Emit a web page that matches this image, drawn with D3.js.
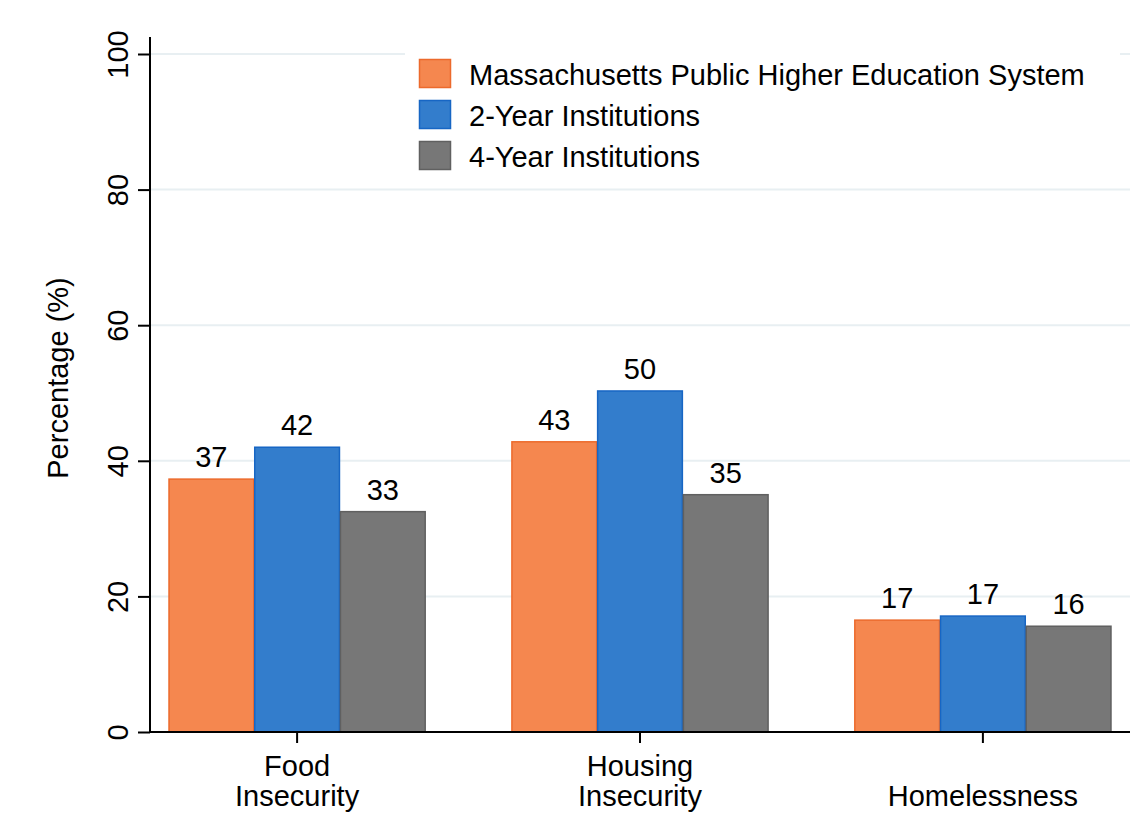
<!DOCTYPE html>
<html>
<head>
<meta charset="utf-8">
<script src="https://cdn.jsdelivr.net/npm/d3@7"></script>
<style>
  body { margin: 0; background: #fff; }
  text { font-family: "Liberation Sans", Arial, sans-serif; fill: #000; }
</style>
</head>
<body>
<svg width="1145" height="838"></svg>
<script>
const categories = [['Food', 'Insecurity'], ['Housing', 'Insecurity'], ['Homelessness']];
const seriesNames = ['Massachusetts Public Higher Education System', '2-Year Institutions', '4-Year Institutions'];
const massValues = [37.3, 42.8, 16.5];
const twoYearValues = [42.0, 50.3, 17.1];
const fourYearValues = [32.5, 35.0, 15.6];
const yTicks = [0, 20, 40, 60, 80, 100];

const fills = ['#f5874f', '#337dcc', '#777777'];
const strokes = ['#ec6a2c', '#1766c4', '#606060'];

const svg = d3.select('svg');
const plotL = 150, plotR = 1130, plotT = 54, plotB = 732;
const fs = 29;

const series = [massValues, twoYearValues, fourYearValues];
const catIdx = d3.range(categories.length);

// scales
const x0 = d3.scaleBand().domain(catIdx).range([plotL, plotR]).paddingInner(0.25).paddingOuter(0.054);
const x1 = d3.scaleBand().domain(d3.range(series.length)).range([0, x0.bandwidth()]);
const y = d3.scaleLinear().domain([0, 100]).range([plotB, plotT]);

// grid
svg.append('g').selectAll('line').data(yTicks.filter(d => d > 0)).enter().append('line')
    .attr('x1', plotL).attr('x2', plotR)
    .attr('y1', d => y(d)).attr('y2', d => y(d))
    .attr('stroke', '#e8eff2').attr('stroke-width', 2);

// bars
const gBars = svg.append('g');
series.forEach((vals, s) => {
  gBars.selectAll('.b' + s).data(vals).enter().append('rect')
    .attr('x', (d, i) => x0(i) + x1(s) + 0.5)
    .attr('width', x1.bandwidth() - 1)
    .attr('y', d => y(d))
    .attr('height', d => y(0) - y(d))
    .attr('fill', fills[s]).attr('stroke', strokes[s]).attr('stroke-width', 1.5);
  gBars.selectAll('.l' + s).data(vals).enter().append('text')
    .attr('x', (d, i) => x0(i) + x1(s) + x1.bandwidth() / 2)
    .attr('y', d => y(d) - 12)
    .attr('text-anchor', 'middle').attr('font-size', fs)
    .text(d => Math.round(d));
});

// y axis
const gY = svg.append('g').attr('transform', `translate(${plotL},0)`)
    .call(d3.axisLeft(y).tickValues(yTicks).tickSize(12).tickPadding(0));
gY.select('.domain').attr('d', `M0,37V${plotB}`).attr('stroke', '#000').attr('stroke-width', 2);
gY.selectAll('.tick line').attr('stroke', '#000').attr('stroke-width', 2);
gY.selectAll('.tick text')
    .attr('transform', 'rotate(-90)').attr('x', 0).attr('y', -22).attr('dy', 0)
    .attr('text-anchor', 'middle').attr('font-size', fs).attr('fill', '#000')
    .attr('font-family', '"Liberation Sans", Arial, sans-serif');

// x axis
const gX = svg.append('g').attr('transform', `translate(0,${plotB})`)
    .call(d3.axisBottom(x0).tickSize(11).tickFormat(''));
gX.select('.domain').attr('d', `M${plotL},0H${plotR}`).attr('stroke', '#000').attr('stroke-width', 2);
gX.selectAll('.tick line').attr('stroke', '#000').attr('stroke-width', 2);
gX.selectAll('.tick').each(function (i) {
  const lines = categories[i];
  const t = d3.select(this).append('text').attr('text-anchor', 'middle').attr('font-size', fs).attr('fill', '#000');
  lines.forEach((ln, k) => {
    t.append('tspan').attr('x', 0).attr('y', 74 - (lines.length - 1 - k) * 30).text(ln);
  });
});

// y title
svg.append('text')
    .attr('transform', `translate(68,378) rotate(-90)`)
    .attr('text-anchor', 'middle').attr('font-size', fs)
    .text('Percentage (%)');

// legend
const gL = svg.append('g');
gL.append('rect').attr('x', 405).attr('y', 44).attr('width', 715).attr('height', 136).attr('fill', '#fff');
seriesNames.forEach((name, s) => {
  const yy = 59 + s * 41;
  gL.append('rect').attr('x', 419.5).attr('y', yy + 0.5).attr('width', 31).attr('height', 28)
    .attr('fill', fills[s]).attr('stroke', strokes[s]).attr('stroke-width', 1.5);
  gL.append('text').attr('x', 469).attr('y', yy + 25.5).attr('font-size', fs).text(name);
});
</script>
</body>
</html>
